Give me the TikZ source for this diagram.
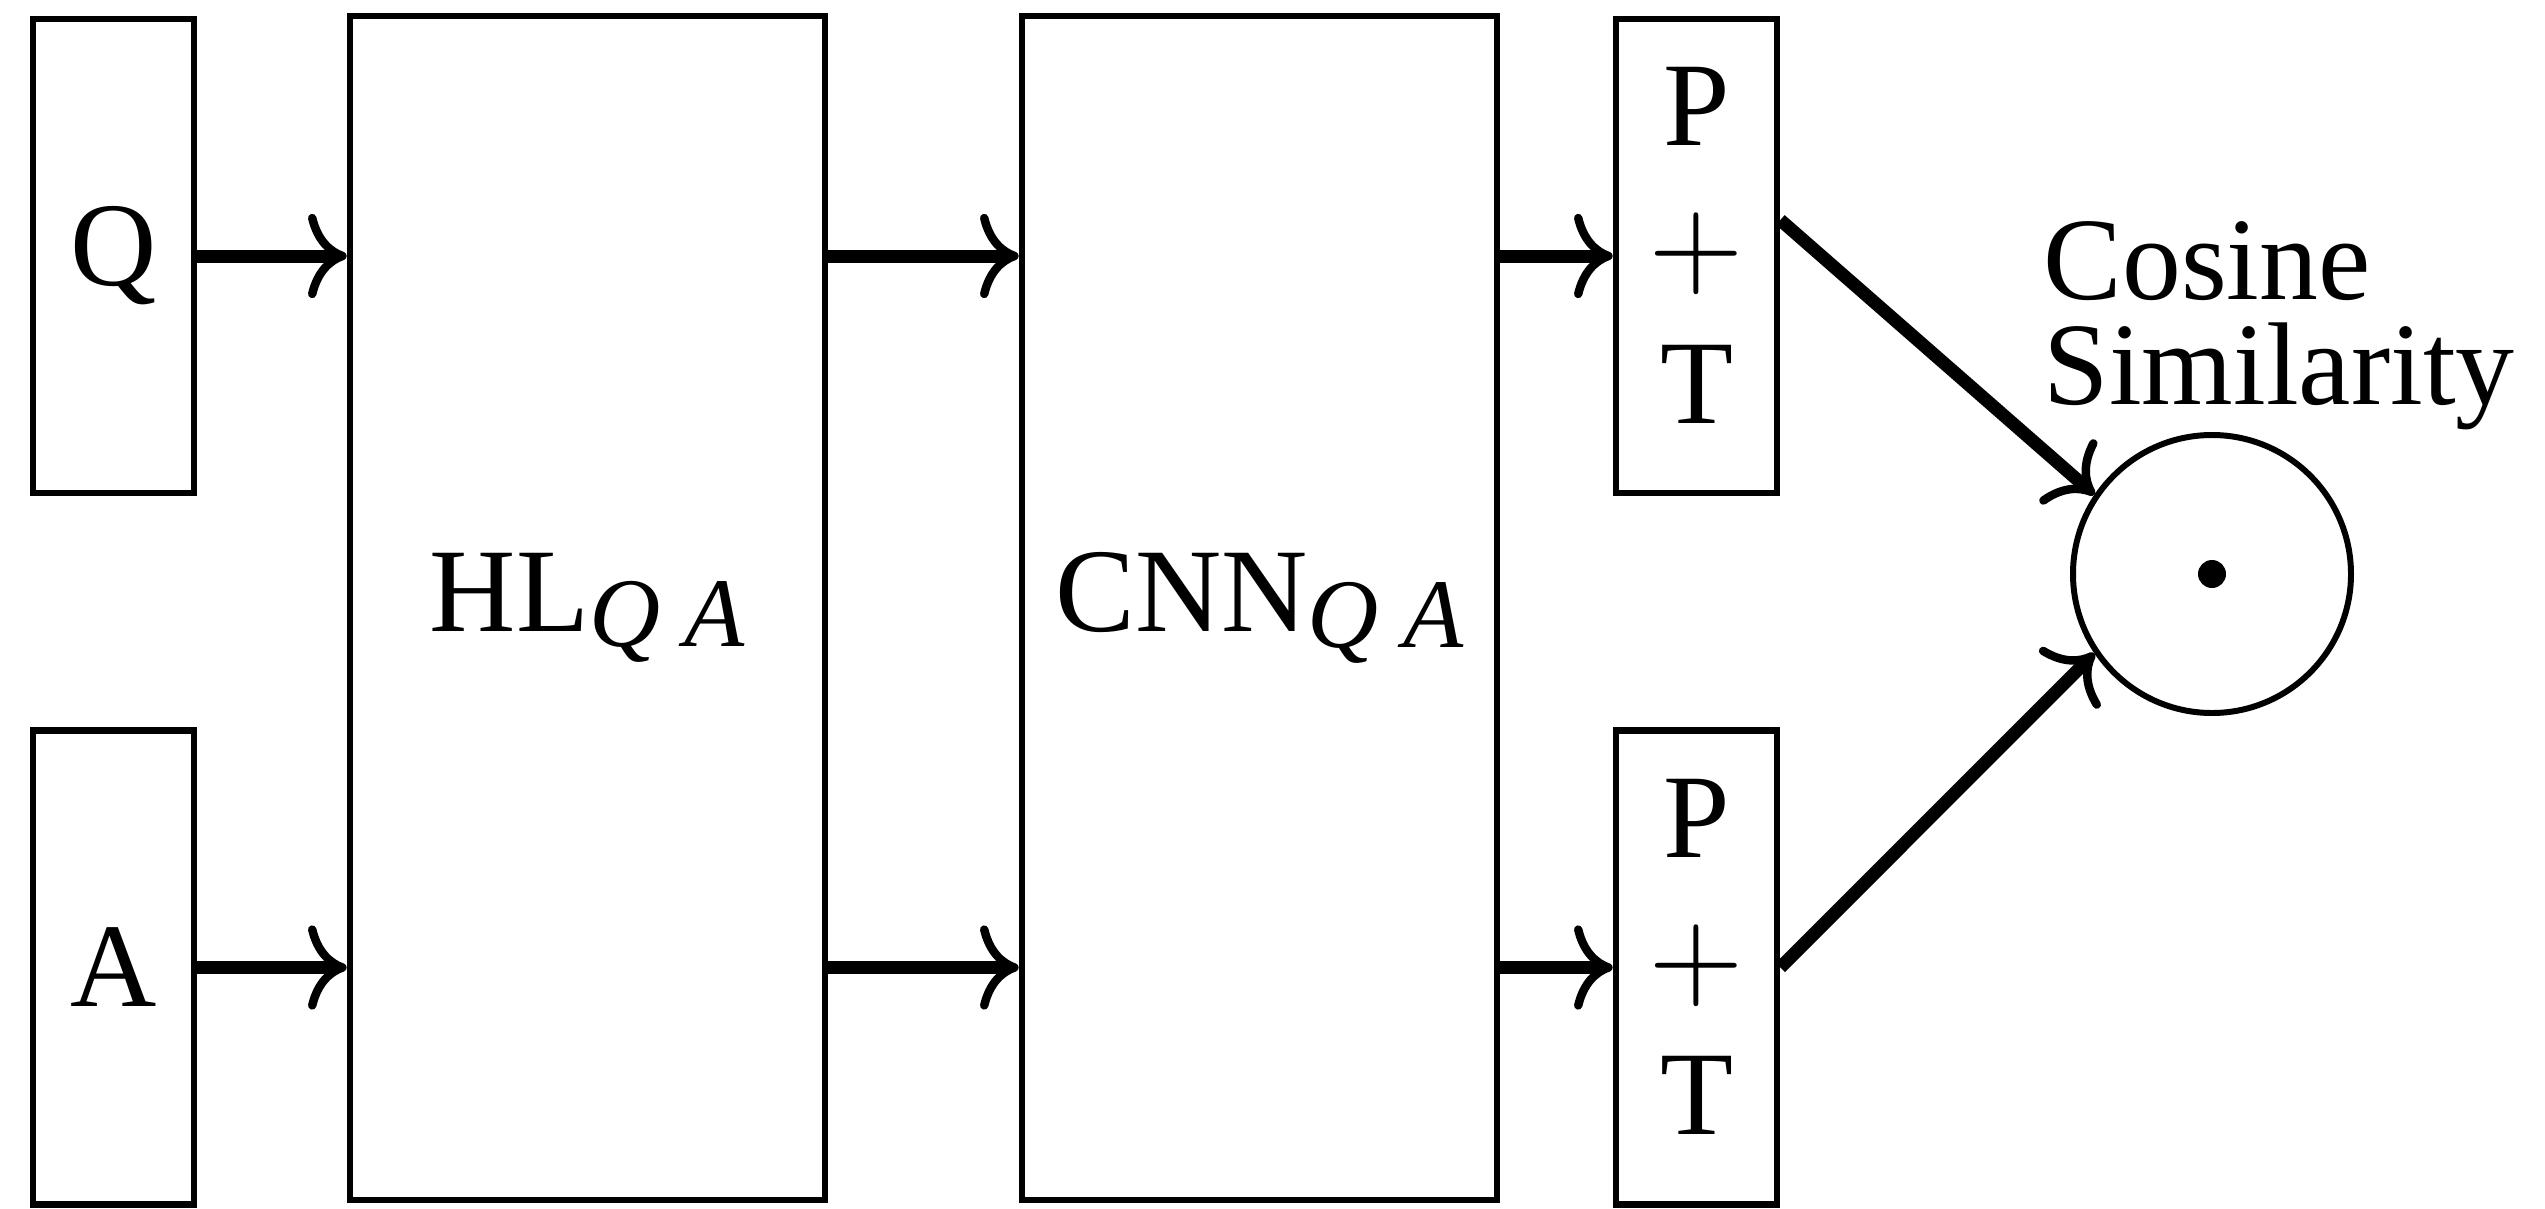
\documentclass[tikz,border=0pt]{standalone}
\usepackage{fontspec}
\usepackage{graphicx}
\setmainfont{Liberation Serif}
\usetikzlibrary{arrows.meta,positioning}

\tikzset{
  block/.style={draw, line width=1.9pt, inner sep=0pt, align=center},
  slim/.style={block, minimum width=1.61cm, minimum height=4.74cm},
  tall/.style={block, minimum width=4.75cm, minimum height=11.84cm},
  flow/.style={-{To[length=11pt,width=24pt,line width=2.4pt]}, line width=3.7pt},
}
\newcommand{\qasub}{\raisebox{-0.28ex}{\fontsize{28}{28}\selectfont\itshape Q A}}
\newcommand{\bigplus}{\smash{\scalebox{3.5}{\fontsize{10}{12}\selectfont$+$}}}

\begin{document}
\begin{tikzpicture}[font=\fontsize{34}{39.5}\selectfont]
\useasboundingbox (0,0) rectangle (25.45,12.08);
% inputs
\node[slim] (q) at (1.135,9.52) {Q};
\node[slim] (a) at (1.135,2.405) {A};
% shared layers
\node[tall] (hl) at (5.875,6.0) {HL\qasub};
\node[tall] (cnn) at (12.595,6.0) {CNN\qasub};
% pooling
\node[slim] (pt1) at (16.965,9.52) {P\\\bigplus\\T\rule[-6pt]{0pt}{0pt}};
\node[slim] (pt2) at (16.965,2.405) {P\\\bigplus\\T\rule[-6pt]{0pt}{0pt}};
% similarity
\node[draw, circle, line width=1.7pt, minimum size=2.78cm] (cos) at (22.12,6.34) {};
\fill (cos.center) circle (0.14);
\node[align=left, anchor=base west, inner sep=0pt, font=\fontsize{33.5}{29.6}\selectfont]
  (lbl) at (20.43,8.04) {Cosine\\Similarity};
\draw[flow] (q) -- (q -| hl.west);
\draw[flow] (a) -- (a -| hl.west);
\draw[flow] (q -| hl.east) -- (q -| cnn.west);
\draw[flow] (a -| hl.east) -- (a -| cnn.west);
\draw[flow] (q -| cnn.east) -- (pt1);
\draw[flow] (a -| cnn.east) -- (pt2);
\draw[flow] ([yshift=3.6mm]pt1.east) -- (cos.146);
\draw[flow] (pt2.east) -- (cos.214);
\end{tikzpicture}
\end{document}
